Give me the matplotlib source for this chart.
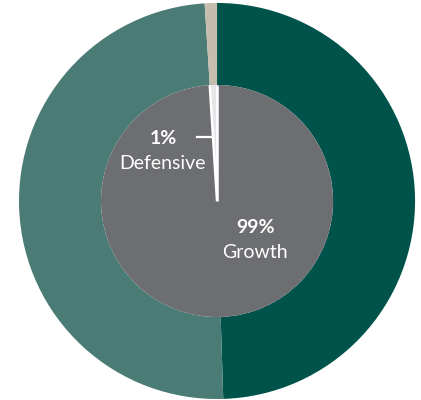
import numpy as np
import matplotlib.pyplot as plt

# Portfolio mix: outer ring is the asset split, inner pie the growth/defensive split
outer_labels = ['Australian Shares', 'International Shares', 'Cash']
outer_values = [49.5, 49.5, 1.0]
outer_colors = ['#00534b', '#4a7b75', '#c5bdae']

inner_labels = ['Defensive', 'Growth']
inner_values = [1, 99]
inner_colors = ['#e4e5e6', '#6d6e71']

plt.rcParams['font.family'] = ['Lato', 'DejaVu Sans']

fig = plt.figure(figsize=(4.21, 4.0), dpi=100)
ax = fig.add_axes([0, 0, 1, 1])

# outer ring
ax.pie(outer_values, colors=outer_colors, radius=1.0, startangle=90,
       counterclock=False, wedgeprops=dict(width=0.414, linewidth=0))

# inner pie
inner_r = 0.586
wedges, _ = ax.pie(inner_values, colors=inner_colors, radius=inner_r, startangle=90,
                   counterclock=True, wedgeprops=dict(linewidth=0))

# white separators on the radial edges of the small slice only
w = wedges[0]
for th in (w.theta1, w.theta2):
    t = np.deg2rad(th)
    ax.plot([0, inner_r * np.cos(t)], [0, inner_r * np.sin(t)],
            color='white', lw=1.8, solid_capstyle='butt')

ax.set_aspect('auto')
ax.set_xlim(-1.096, 1.030)
ax.set_ylim(-1.005, 1.015)
ax.axis('off')

# labels
fs = 14
ax.text(-0.273, 0.318, f'{inner_values[0]}%', color='white', fontsize=fs,
        fontweight='bold', ha='center', va='center')
ax.text(-0.273, 0.190, inner_labels[0], color='white', fontsize=fs,
        ha='center', va='center')
ax.plot([-0.101, -0.030], [0.323, 0.323], color='white', lw=1.6)

ax.text(0.192, -0.136, f'{inner_values[1]}%', color='white', fontsize=fs,
        fontweight='bold', ha='center', va='center')
ax.text(0.192, -0.258, inner_labels[1], color='white', fontsize=fs,
        ha='center', va='center')

fig.savefig('out.png', dpi=100)
